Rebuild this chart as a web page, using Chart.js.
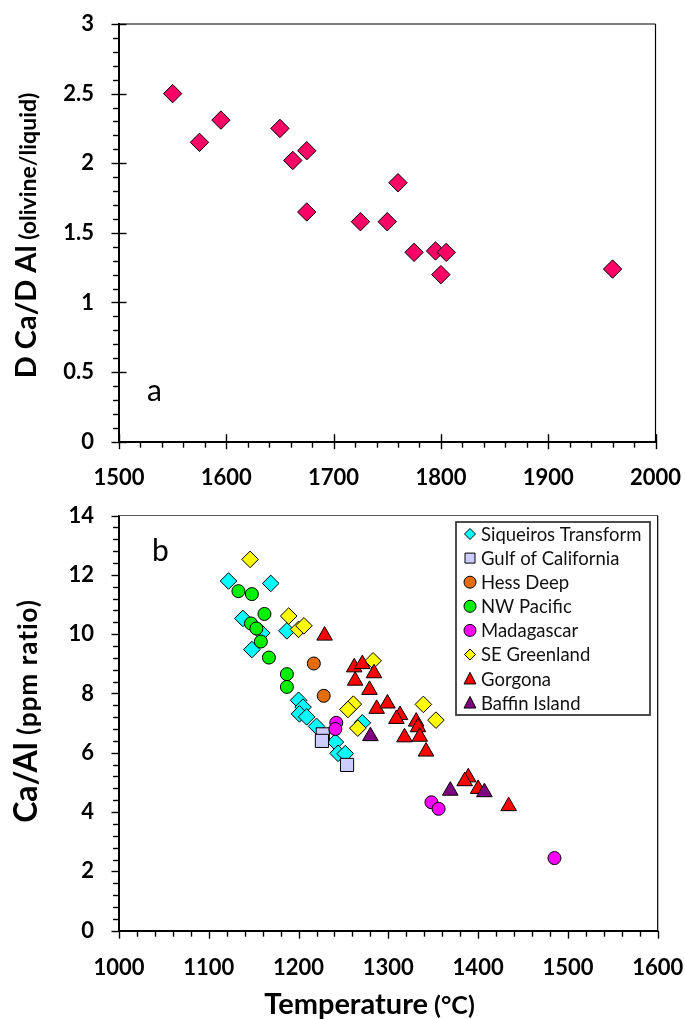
<!DOCTYPE html>
<html>
<head>
<meta charset="utf-8">
<script src="https://cdn.jsdelivr.net/npm/chart.js@4.4.1/dist/chart.umd.min.js"></script>
<style>
  html, body { margin: 0; padding: 0; background: #fff; }
  #wrap { position: relative; width: 685px; height: 1019px; }
  canvas { position: absolute; left: 0; }
  #chartA { top: 0; }
  #chartB { top: 500px; }
</style>
</head>
<body>
<div id="wrap">
  <canvas id="chartA" width="685" height="500"></canvas>
  <canvas id="chartB" width="685" height="519"></canvas>
</div>
<script>
// panel a: D Ca / D Al vs temperature
const aTemp  = [1550, 1575, 1595, 1650, 1662, 1675, 1675, 1725, 1750, 1760, 1775, 1795, 1805, 1800, 1960];
const aRatio = [2.50, 2.15, 2.31, 2.25, 2.02, 2.09, 1.65, 1.58, 1.58, 1.86, 1.36, 1.37, 1.36, 1.20, 1.24];

// panel b: Ca/Al (ppm ratio) vs temperature, one pair of arrays per locality
const siqT = [1122, 1169, 1138, 1159, 1187, 1148, 1200, 1205, 1201, 1209, 1220, 1241, 1244, 1252, 1271];
const siqR = [11.79, 11.71, 10.53, 10.04, 10.11, 9.48, 7.77, 7.54, 7.31, 7.21, 6.89, 6.36, 5.98, 5.97, 7.01];
const gulfT = [1227, 1226, 1254];
const gulfR = [6.62, 6.40, 5.59];
const hessT = [1217, 1228];
const hessR = [9.01, 7.92];
const nwpT = [1133, 1148, 1162, 1147, 1153, 1158, 1167, 1187, 1187];
const nwpR = [11.45, 11.35, 10.68, 10.36, 10.19, 9.75, 9.21, 8.65, 8.22];
const madT = [1242, 1241, 1348, 1356, 1485];
const madR = [7.01, 6.80, 4.33, 4.11, 2.45];
const segT = [1146, 1189, 1200, 1206, 1283, 1261, 1255, 1266, 1339, 1353];
const segR = [12.52, 10.61, 10.16, 10.28, 9.10, 7.64, 7.46, 6.83, 7.63, 7.10];
const gorT = [1229, 1262, 1271, 1284, 1263, 1279, 1287, 1299, 1313, 1309, 1331, 1333, 1318, 1335, 1342, 1389, 1385, 1400, 1434];
const gorR = [9.95, 8.88, 8.99, 8.68, 8.43, 8.12, 7.48, 7.66, 7.27, 7.14, 7.05, 6.86, 6.52, 6.54, 6.04, 5.17, 5.04, 4.78, 4.20];
const bafT = [1280, 1369, 1407];
const bafR = [6.56, 4.72, 4.67];

const seriesNames = ['Siqueiros Transform', 'Gulf of California', 'Hess Deep', 'NW Pacific',
                     'Madagascar', 'SE Greenland', 'Gorgona', 'Baffin Island'];
const seriesT = [siqT, gulfT, hessT, nwpT, madT, segT, gorT, bafT];
const seriesR = [siqR, gulfR, hessR, nwpR, madR, segR, gorR, bafR];
const seriesColors = ['#00ffff', '#ccccff', '#e46c0a', '#00f000', '#ff00ff', '#ffff00', '#ff0000', '#800080'];
const seriesStyles = ['rectRot', 'rect', 'circle', 'circle', 'circle', 'rectRot', 'triangle', 'triangle'];
const styleRadius = {rectRot: 8.3, rect: 9.3, circle: 6.5, triangle: 9};

const xTicksA = [1500, 1600, 1700, 1800, 1900, 2000];
const xTicksB = [1000, 1100, 1200, 1300, 1400, 1500, 1600];

Chart.defaults.font.family = 'Lato, "Open Sans", sans-serif';
Chart.defaults.color = '#000';

const pts = (xs, ys) => xs.map((x, i) => ({x, y: ys[i]}));

function titleRun(ctx, parts, x, y, rotated) {
  let total = 0;
  parts.forEach(p => {
    ctx.font = p.font;
    ctx.letterSpacing = (p.spacing || 0) + 'px';
    p.w = ctx.measureText(p.text).width;
    total += p.w;
  });
  ctx.save();
  if (rotated) { ctx.translate(x, y + total / 2); ctx.rotate(-Math.PI / 2); }
  else ctx.translate(x - total / 2, y);
  ctx.textAlign = 'left';
  ctx.textBaseline = 'alphabetic';
  ctx.fillStyle = '#000';
  let off = 0;
  parts.forEach(p => {
    ctx.font = p.font;
    ctx.letterSpacing = (p.spacing || 0) + 'px';
    ctx.fillText(p.text, off, 0);
    off += p.w;
  });
  ctx.restore();
  ctx.letterSpacing = '0px';
}

function marker(ctx, style, color, x, y, r) {
  ctx.beginPath();
  if (style === 'rectRot') {
    ctx.moveTo(x, y - r); ctx.lineTo(x + r, y); ctx.lineTo(x, y + r); ctx.lineTo(x - r, y);
  } else if (style === 'rect') {
    ctx.rect(x - r, y - r, 2 * r, 2 * r);
  } else if (style === 'circle') {
    ctx.arc(x, y, r, 0, Math.PI * 2);
  } else {
    const h = r * 0.9;
    ctx.moveTo(x, y - h); ctx.lineTo(x + r * 0.85, y + h * 0.85); ctx.lineTo(x - r * 0.85, y + h * 0.85);
  }
  ctx.closePath();
  ctx.fillStyle = color;
  ctx.fill();
  ctx.lineWidth = 1;
  ctx.strokeStyle = '#000';
  ctx.stroke();
}

// frame, minor ticks, panel letter, axis titles, inset legend
const decor = {
  id: 'decor',
  afterDraw(chart, args, o) {
    const {ctx, chartArea: a} = chart;
    const xs = chart.scales.x, ys = chart.scales.y;
    ctx.save();
    ctx.lineWidth = 1.2;
    ctx.strokeStyle = o.topColor;
    ctx.beginPath(); ctx.moveTo(a.left, a.top); ctx.lineTo(a.right, a.top); ctx.stroke();
    ctx.strokeStyle = '#000';
    ctx.beginPath(); ctx.moveTo(a.right, a.top); ctx.lineTo(a.right, a.bottom + 1); ctx.stroke();

    ctx.lineWidth = 1.4;
    const nx = Math.round((xs.max - xs.min) / o.xMinor);
    for (let i = 0; i <= nx; i++) {
      const v = xs.min + i * o.xMinor;
      const p = Math.round(xs.getPixelForValue(v)) + 0.5;
      const major = i % o.xEvery === 0;
      ctx.beginPath();
      ctx.moveTo(p, a.bottom - (major ? o.majorIn : 0));
      ctx.lineTo(p, a.bottom + (major ? o.majorOut : 6));
      ctx.stroke();
    }
    const ny = Math.round((ys.max - ys.min) / o.yMinor);
    for (let i = 0; i <= ny; i++) {
      const v = ys.min + i * o.yMinor;
      const p = Math.round(ys.getPixelForValue(v)) + 0.5;
      const major = i % o.yEvery === 0;
      ctx.beginPath();
      ctx.moveTo(a.left + (major ? o.majorIn : 0), p);
      ctx.lineTo(a.left - (major ? 7.5 : 6), p);
      ctx.stroke();
    }

    ctx.fillStyle = '#000';
    ctx.font = '30px Lato';
    ctx.textAlign = 'left';
    ctx.textBaseline = 'alphabetic';
    ctx.fillText(o.letter, o.letterX, o.letterY);

    titleRun(ctx, o.yTitle, o.yTitleX, o.yTitleY, true);
    if (o.xTitle) titleRun(ctx, o.xTitle, o.xTitleX, o.xTitleY, false);

    if (o.legend) {
      const L = o.legend;
      ctx.lineWidth = 1.8;
      ctx.strokeStyle = '#3a3a3a';
      ctx.strokeRect(L.left, L.top, L.width, L.height);
      ctx.font = '18.5px Lato';
      ctx.textBaseline = 'middle';
      seriesNames.forEach((name, i) => {
        const cy = L.firstRow + i * L.rowGap;
        const st = seriesStyles[i];
        const r = st === 'rect' ? 5 : st === 'circle' ? 6 : st === 'triangle' ? 7 : 5.5;
        marker(ctx, st, seriesColors[i], L.markerX, cy, r);
        ctx.fillStyle = '#111';
        ctx.fillText(name, L.textX, cy + 1);
      });
    }
    ctx.restore();
  }
};

// label gaps come from invisible tick marks, so ticks.padding stays 0
// (Chart.js adds ticks.padding to the scale's edge padding)
function axes(xMin, xMax, xTicks, yMin, yMax, yStep, xHeight, xGap) {
  const tickFont = {size: 22, weight: 'bold'};
  const hidden = 'rgba(0,0,0,0)';
  return {
    x: {
      type: 'linear', min: xMin, max: xMax,
      afterBuildTicks: s => { s.ticks = xTicks.map(v => ({value: v})); },
      ticks: {font: tickFont, color: '#000', padding: 0, maxRotation: 0, autoSkip: false, callback: v => String(v)},
      grid: {display: true, drawOnChartArea: false, drawTicks: true, tickLength: xGap, tickColor: hidden},
      border: {display: true, color: '#000', width: 2},
      afterFit: s => { s.height = xHeight; }
    },
    y: {
      type: 'linear', min: yMin, max: yMax,
      ticks: {stepSize: yStep, font: tickFont, color: '#000', padding: 0, autoSkip: false,
              callback: v => String(Math.round(v * 10) / 10)},
      grid: {display: true, drawOnChartArea: false, drawTicks: true, tickLength: 25, tickColor: hidden},
      border: {display: true, color: '#000', width: 2},
      afterFit: s => { s.width = 119; }
    }
  };
}

// nudge layout padding until the plot area sits where the reference has it
function pinArea(chart, t) {
  for (let k = 0; k < 3; k++) {
    const a = chart.chartArea, p = chart.config.options.layout.padding;
    p.top = Math.max(0, p.top + t.top - a.top);
    p.right = Math.max(0, p.right + a.right - t.right);
    p.bottom = Math.max(0, p.bottom + a.bottom - t.bottom);
    p.left = Math.max(0, p.left + t.left - a.left);
    chart.update();
  }
}

const chartA = new Chart(document.getElementById('chartA'), {
  type: 'scatter',
  data: {
    datasets: [{
      data: pts(aTemp, aRatio),
      pointStyle: 'rectRot', pointRadius: 9.2,
      backgroundColor: '#ff0066', borderColor: '#000', borderWidth: 1
    }]
  },
  options: {
    responsive: false, animation: false, devicePixelRatio: 1, events: [],
    layout: {padding: {left: 0, top: 24, right: 29.5, bottom: 0}},
    scales: axes(1500, 2000, xTicksA, 0, 3, 0.5, 500 - 441.7, 23),
    plugins: {
      legend: {display: false}, tooltip: {enabled: false},
      decor: {
        topColor: '#000', xMinor: 20, xEvery: 5, yMinor: 0.1, yEvery: 5, majorIn: 7.5, majorOut: 7.5,
        letter: 'a', letterX: 147, letterY: 401,
        yTitle: [{text: 'D Ca/D Al', font: 'bold 29px Lato'}, {text: ' (olivine/liquid)', font: 'bold 23px Lato'}],
        yTitleX: 36, yTitleY: 235.5
      }
    }
  },
  plugins: [decor]
});
pinArea(chartA, {left: 119, top: 24, right: 655.5, bottom: 441.7});

const chartB = new Chart(document.getElementById('chartB'), {
  type: 'scatter',
  data: {
    datasets: seriesNames.map((name, i) => ({
      label: name,
      data: pts(seriesT[i], seriesR[i]),
      pointStyle: seriesStyles[i], pointRadius: styleRadius[seriesStyles[i]],
      backgroundColor: seriesColors[i], borderColor: '#000', borderWidth: 1,
      order: seriesNames.length - i
    }))
  },
  options: {
    responsive: false, animation: false, devicePixelRatio: 1, events: [],
    layout: {padding: {left: 0, top: 15.5, right: 27.3, bottom: 0}},
    scales: axes(1000, 1600, xTicksB, 0, 14, 2, 519 - 430.7, 24.5),
    plugins: {
      legend: {display: false}, tooltip: {enabled: false},
      decor: {
        topColor: '#595959', xMinor: 20, xEvery: 5, yMinor: 0.4, yEvery: 5, majorIn: 0, majorOut: 8,
        letter: 'b', letterX: 152, letterY: 61,
        yTitle: [{text: 'Ca/Al', font: 'bold 32px Lato'}, {text: ' (ppm ratio)', font: 'bold 26px Lato', spacing: 1}],
        yTitleX: 37, yTitleY: 211,
        xTitle: [{text: 'Temperature', font: 'bold 29px Lato'}, {text: ' (°C)', font: 'bold 25px Lato'}],
        xTitleX: 369.5, xTitleY: 514,
        legend: {left: 456, top: 22, width: 194, height: 193, markerX: 470, textX: 481, firstRow: 34, rowGap: 24.1}
      }
    }
  },
  plugins: [decor]
});
pinArea(chartB, {left: 119, top: 15.5, right: 657.7, bottom: 430.7});
</script>
</body>
</html>
